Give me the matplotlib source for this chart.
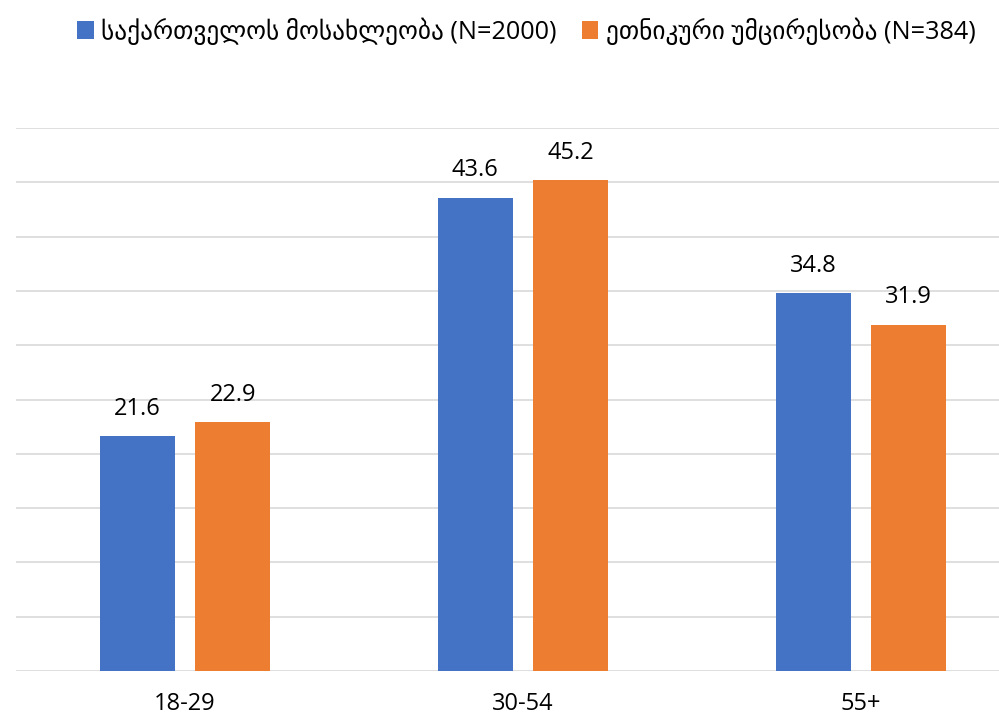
import numpy as np
import matplotlib
matplotlib.use("Agg")
import matplotlib.pyplot as plt


# age groups and shares (%)
categories = ["18-29", "30-54", "55+"]
series_names = ["საქართველოს მოსახლეობა (N=2000)", "ეთნიკური უმცირესობა (N=384)"]
georgia_all = [21.6, 43.6, 34.8]
minorities = [22.9, 45.2, 31.9]

blue = "#4472C4"
orange = "#ED7D31"

plt.rcParams["font.family"] = ["Open Sans", "DejaVu Sans"]

fig = plt.figure(figsize=(9.99, 7.2), dpi=100)
# plot area runs past the right edge of the picture, as in the original
ax = fig.add_axes([16 / 999, 49 / 720, 1014 / 999, 543 / 720])

x = np.arange(len(categories))
width = 0.222
offset = 0.141

bars1 = ax.bar(x - offset, georgia_all, width, color=blue, label=series_names[0], zorder=3)
bars2 = ax.bar(x + offset, minorities, width, color=orange, label=series_names[1], zorder=3)

for bars in (bars1, bars2):
    for b in bars:
        ax.annotate("%.1f" % b.get_height(), (b.get_x() + b.get_width() / 2, b.get_height()),
                    xytext=(0, 11), textcoords="offset points", ha="center", va="bottom",
                    fontsize=17, color="#000000")

ax.set_xlim(-0.5, 2.5)
ax.set_ylim(0, 50)
ax.set_yticks(np.arange(0, 51, 5))
ax.yaxis.grid(True, color="#D9D9D9", linewidth=1.2, zorder=0)
ax.set_yticklabels([])
ax.tick_params(axis="y", length=0)
ax.set_xticks(x)
ax.set_xticklabels(categories, fontsize=17)
ax.tick_params(axis="x", length=0, pad=15)
for s in ax.spines.values():
    s.set_visible(False)

fig.legend(handles=[bars1, bars2], labels=series_names, loc="upper center",
           bbox_to_anchor=(0.527, 1.0), ncol=2, frameon=False, fontsize=18.2,
           handlelength=0.65, handleheight=0.7, handletextpad=0.3, columnspacing=1.0,
           borderaxespad=0.3)

fig.savefig("out.png", dpi=100)
